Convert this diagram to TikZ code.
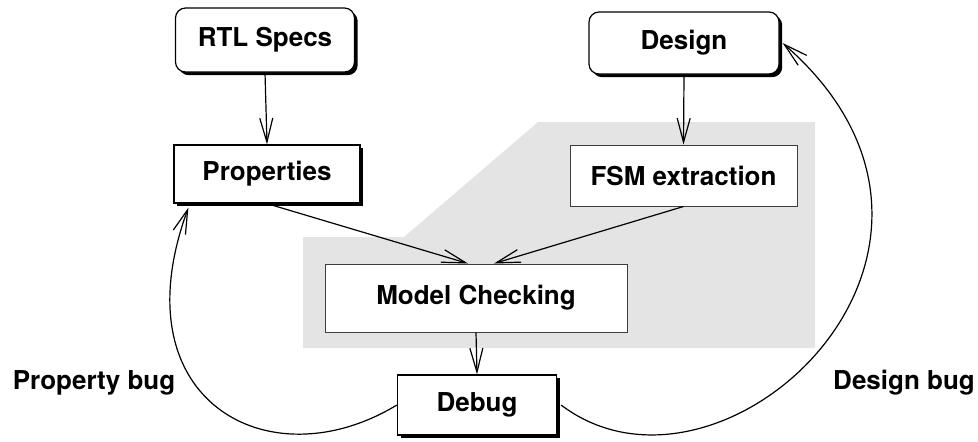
\documentclass[tikz,border=0pt]{standalone}
\usepackage{fontspec}
\setmainfont{TeX Gyre Heros}
\usetikzlibrary{arrows.meta,shadows}
\definecolor{zone}{RGB}{228,228,228}
\definecolor{thinframe}{RGB}{60,60,60}

\begin{document}
\begin{tikzpicture}[x=0.5pt,y=-0.5pt,
  lbl/.style={font=\bfseries\fontsize{13}{15}\selectfont, inner sep=0pt},
  shadowed/.style={lbl, draw=black, line width=0.6pt, fill=white,
    drop shadow={shadow xshift=1.6pt, shadow yshift=-1.6pt, fill=black, opacity=1}},
  roundbox/.style={shadowed, rounded corners=5pt},
  plainbox/.style={lbl, draw=thinframe, line width=0.5pt, fill=white},
  arr/.style={line width=0.6pt, -{Straight Barb[length=12pt,width=6.5pt,line width=0.6pt]}}]

\useasboundingbox (0,0) rectangle (978,441);

% shaded region around the verification engine
\fill[zone] (303,237) -- (404,237) -- (538,122) -- (815,122) -- (815,348) -- (303,348) -- cycle;

% boxes
\node[roundbox, minimum width=89.5pt, minimum height=32pt] (rtl) at (265,40) {RTL Specs};
\node[roundbox, minimum width=95pt, minimum height=31pt] (design) at (684,43) {Design};
\node[shadowed, minimum width=93pt, minimum height=29pt] (props) at (267,174) {Properties};
\node[plainbox, minimum width=113.5pt, minimum height=30.5pt] (fsm) at (683.5,175.5) {FSM extraction};
\node[plainbox, minimum width=151pt, minimum height=34pt] (mc) at (476,298) {Model Checking};
\node[shadowed, minimum width=79.5pt, minimum height=30pt] (debug) at (477,405) {Debug};

% labels of the feedback loops
\node[lbl] (pbug) at (94,383) {Property bug};
\node[lbl] (dbug) at (904,383) {Design bug};

% forward flow
\draw[arr] (rtl.south) -- (props.north);
\draw[arr] (design.south) -- (fsm.north);
\draw[arr] (props.south) -- ([xshift=-4pt]mc.north);
\draw[arr] (fsm.south) -- ([xshift=9pt]mc.north);
\draw[arr] (mc.south) -- (debug.north);

% feedback loops
\draw[arr] (debug.west) .. controls (268,483) and (118,400) .. ([xshift=7.5pt,yshift=-2pt]props.south west);
\draw[arr] ([xshift=2pt]debug.east) .. controls (722,527) and (1020,250) .. ([xshift=1.5pt]design.east);
\end{tikzpicture}
\end{document}
